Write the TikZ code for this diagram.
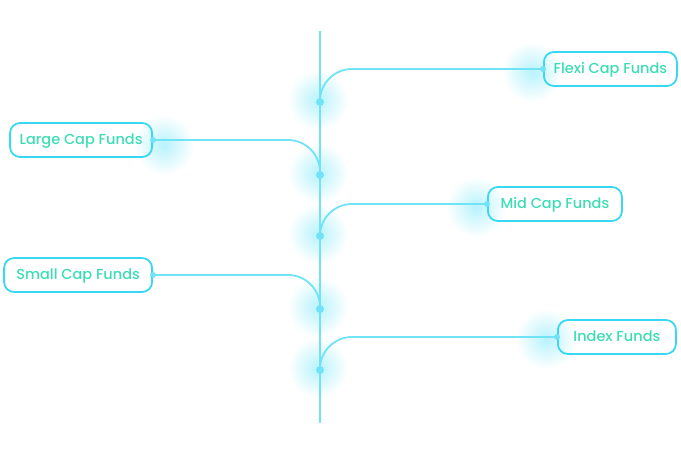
\documentclass[tikz,border=0pt]{standalone}
\usepackage{fontspec}
\newfontfamily\fundfont{Poppins Medium}
\usetikzlibrary{positioning,fadings}
\definecolor{trunkcol}{HTML}{70E4F6}
\definecolor{boxcol}{HTML}{38D8F4}
\definecolor{textcol}{HTML}{3CDDB6}
\definecolor{glowcol}{HTML}{6FE6FA}
\tikzfading[name=glowfade, inner color=transparent!50, outer color=transparent!100]

\begin{document}
\begin{tikzpicture}[x=1pt, y=-1pt,
  fund/.style={draw=boxcol, line width=1.8pt, rounded corners=10pt, minimum height=34pt, minimum width=#1, inner xsep=8pt, text height=10.5pt, text depth=1pt, text=textcol, font=\fundfont\fontsize{14.5}{16}\selectfont},
  branch/.style={draw=trunkcol, line width=1.8pt, rounded corners=32pt},
  dot/.style={fill=trunkcol, circle, inner sep=0pt, minimum size=#1},
  glow/.style={fill=glowcol, path fading=glowfade}]

\useasboundingbox (0,0) rectangle (681,454);

% GLOWS

\foreach \gx/\gy in {318/100, 318/173, 318/234, 318/307, 318/368, 164/145, 532/72, 476/207, 546/339}
  \fill[glow] (\gx,\gy) circle (30);

% TRUNK

\coordinate (top) at (320,31);
\coordinate (bottom) at (320,423);
\draw[trunkcol, line width=1.8pt] (top) -- (bottom);

\coordinate (jflexi) at (320,102);
\coordinate (jlarge) at (320,175);
\coordinate (jmid) at (320,236);
\coordinate (jsmall) at (320,309);
\coordinate (jindex) at (320,370);

% FUNDS

\node [fund=133pt, anchor=west] (flexi) at (543,69) {Flexi Cap Funds};
\node [fund=142pt, anchor=east] (large) at (153,140) {Large Cap Funds};
\node [fund=134pt, anchor=west] (mid) at (487,204) {Mid Cap Funds};
\node [fund=148pt, anchor=east] (small) at (153,275) {Small Cap Funds};
\node [fund=118pt, anchor=west] (index) at (557,337) {Index Funds};

% BRANCHES

\draw[branch] (jflexi) |- (flexi.west);
\draw[branch] (large.east) -| (jlarge);
\draw[branch] (jmid) |- (mid.west);
\draw[branch] (small.east) -| (jsmall);
\draw[branch] (jindex) |- (index.west);

\foreach \j in {jflexi, jlarge, jmid, jsmall, jindex}
  \node [dot=8pt] at (\j) {};
\foreach \b/\a in {flexi/west, large/east, mid/west, small/east, index/west}
  \node [dot=6pt] at (\b.\a) {};

\end{tikzpicture}
\end{document}
